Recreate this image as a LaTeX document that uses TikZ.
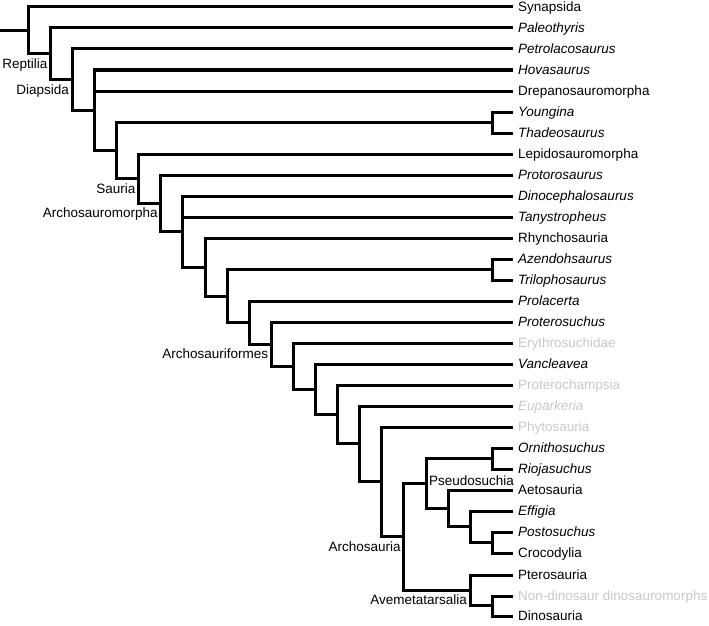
\documentclass[tikz,border=0pt]{standalone}
\usepackage{fontspec}
\setmainfont{Liberation Sans}
\definecolor{lightgrey}{HTML}{C8C8C8}
\begin{document}
\begin{tikzpicture}[x=1pt,y=-1pt,
  branch/.style={line width=3pt,line join=miter,line cap=butt,black},
  leaf/.style={anchor=west,inner xsep=5pt,inner ysep=0pt,text height=9.7pt,text depth=0pt,font=\fontsize{13.5pt}{15pt}\selectfont},
  grey/.style={text=lightgrey},
  clade/.style={inner sep=0pt,font=\fontsize{13.5pt}{15pt}\selectfont},
  below left clade/.style={clade,anchor=north east,xshift=-3pt,yshift=-4.5pt}]
\useasboundingbox (0,0) rectangle (709,626);
% leaves
\node[leaf] (l0) at (513,7) {Synapsida};
\node[leaf] (l1) at (513,28) {\itshape Paleothyris};
\node[leaf] (l2) at (513,49) {\itshape Petrolacosaurus};
\node[leaf] (l3) at (513,70) {\itshape Hovasaurus};
\node[leaf] (l4) at (513,91) {Drepanosauromorpha};
\node[leaf] (l5) at (513,112) {\itshape Youngina};
\node[leaf] (l6) at (513,133) {\itshape Thadeosaurus};
\node[leaf] (l7) at (513,154) {Lepidosauromorpha};
\node[leaf] (l8) at (513,175) {\itshape Protorosaurus};
\node[leaf] (l9) at (513,196) {\itshape Dinocephalosaurus};
\node[leaf] (l10) at (513,217) {\itshape Tanystropheus};
\node[leaf] (l11) at (513,238) {Rhynchosauria};
\node[leaf] (l12) at (513,259) {\itshape Azendohsaurus};
\node[leaf] (l13) at (513,280) {\itshape Trilophosaurus};
\node[leaf] (l14) at (513,301) {\itshape Prolacerta};
\node[leaf] (l15) at (513,322) {\itshape Proterosuchus};
\node[leaf,grey] (l16) at (513,343) {Erythrosuchidae};
\node[leaf] (l17) at (513,364) {\itshape Vancleavea};
\node[leaf,grey] (l18) at (513,385) {Proterochampsia};
\node[leaf,grey] (l19) at (513,406) {\itshape Euparkeria};
\node[leaf,grey] (l20) at (513,427) {Phytosauria};
\node[leaf] (l21) at (513,448) {\itshape Ornithosuchus};
\node[leaf] (l22) at (513,469) {\itshape Riojasuchus};
\node[leaf] (l23) at (513,490) {Aetosauria};
\node[leaf] (l24) at (513,511) {\itshape Effigia};
\node[leaf] (l25) at (513,532) {\itshape Postosuchus};
\node[leaf] (l26) at (513,553) {Crocodylia};
\node[leaf] (l27) at (513,575) {Pterosauria};
\node[leaf,grey] (l28) at (513,596) {Non-dinosaur dinosauromorphs};
\node[leaf] (l29) at (513,616) {Dinosauria};
% internal nodes
\coordinate (root) at (0,30.4);
\coordinate (n0) at (28,30.4);
\coordinate (n1) at (50.5,53.8);
\coordinate (n2) at (72.2,79.6);
\coordinate (n3) at (94.3,110.3);
\coordinate (n4) at (116.6,150.6);
\coordinate (yt) at (492,122.5);
\coordinate (n5) at (138.7,178.6);
\coordinate (n6) at (160.8,203.3);
\coordinate (n7) at (182.9,231.5);
\coordinate (n8) at (205,267);
\coordinate (n9) at (227,296);
\coordinate (at) at (492,269.5);
\coordinate (n10) at (249.2,322.5);
\coordinate (n11) at (271.3,344);
\coordinate (n12) at (293.4,366.1);
\coordinate (n13) at (315.5,389.2);
\coordinate (n14) at (337.6,414.5);
\coordinate (n15) at (359.7,443.9);
\coordinate (n16) at (381.8,481.8);
\coordinate (n17) at (403.9,536.6);
\coordinate (n18) at (426,483.4);
\coordinate (orr) at (492,458.5);
\coordinate (n19) at (448.1,508.4);
\coordinate (n20) at (470,526.8);
\coordinate (pc) at (492,542.5);
\coordinate (n21) at (470,590);
\coordinate (nd) at (492,605.8);
% branches
\draw[branch] (root) -- (n0);
\draw[branch] (l0.west) -| (n0) |- (n1);
\draw[branch] (l1.west) -| (n1) |- (n2);
\draw[branch] (l2.west) -| (n2) |- (n3);
\draw[branch] (l3.west) -| (n3) |- (n4);
\draw[branch] (n3 |- l4.west) -- (l4.west);
\draw[branch] (yt) -| (n4) |- (n5);
\draw[branch] (l5.west) -| (yt) |- (l6.west);
\draw[branch] (l7.west) -| (n5) |- (n6);
\draw[branch] (l8.west) -| (n6) |- (n7);
\draw[branch] (l9.west) -| (n7) |- (n8);
\draw[branch] (n7 |- l10.west) -- (l10.west);
\draw[branch] (l11.west) -| (n8) |- (n9);
\draw[branch] (at) -| (n9) |- (n10);
\draw[branch] (l12.west) -| (at) |- (l13.west);
\draw[branch] (l14.west) -| (n10) |- (n11);
\draw[branch] (l15.west) -| (n11) |- (n12);
\draw[branch] (l16.west) -| (n12) |- (n13);
\draw[branch] (l17.west) -| (n13) |- (n14);
\draw[branch] (l18.west) -| (n14) |- (n15);
\draw[branch] (l19.west) -| (n15) |- (n16);
\draw[branch] (l20.west) -| (n16) |- (n17);
\draw[branch] (n18) -| (n17) |- (n21);
\draw[branch] (orr) -| (n18) |- (n19);
\draw[branch] (l21.west) -| (orr) |- (l22.west);
\draw[branch] (l23.west) -| (n19) |- (n20);
\draw[branch] (l24.west) -| (n20) |- (pc);
\draw[branch] (l25.west) -| (pc) |- (l26.west);
\draw[branch] (l27.west) -| (n21) |- (nd);
\draw[branch] (l28.west) -| (nd) |- (l29.west);
% clade labels
\node[below left clade] (reptilia) at (n1) {Reptilia};
\node[below left clade] (diapsida) at (n2) {Diapsida};
\node[below left clade] (sauria) at (n5) {Sauria};
\node[below left clade] (archmorpha) at (n6) {Archosauromorpha};
\node[below left clade] (archformes) at (n11) {Archosauriformes};
\node[below left clade] (archosauria) at (n17) {Archosauria};
\node[clade,anchor=west,xshift=3pt,yshift=2.5pt] (pseudosuchia) at (n18) {Pseudosuchia};
\node[below left clade] (avemet) at (n21) {Avemetatarsalia};
\end{tikzpicture}
\end{document}
